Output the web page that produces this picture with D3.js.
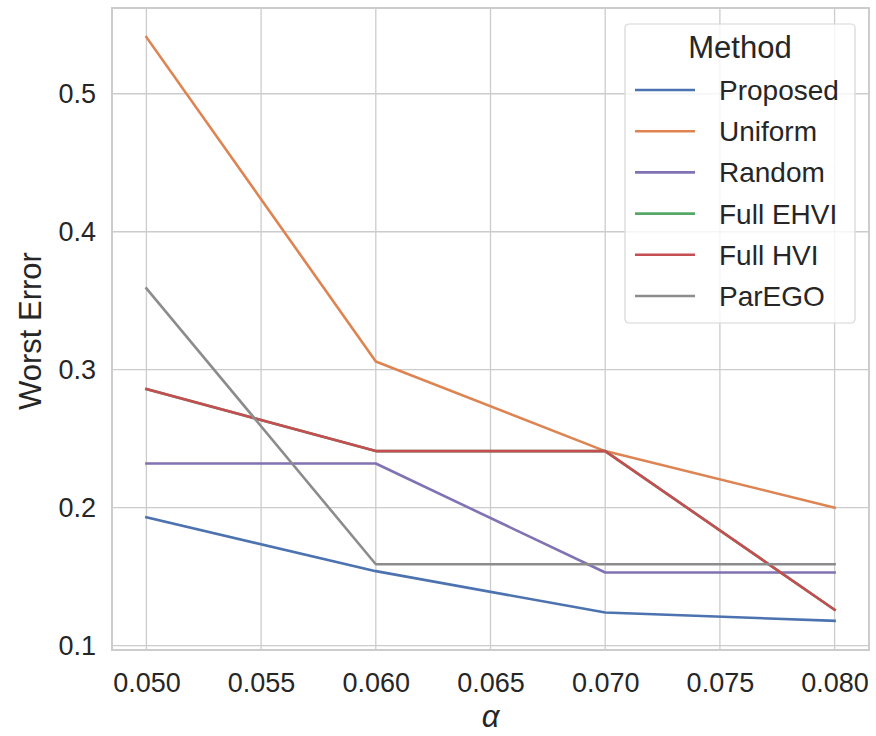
<!DOCTYPE html>
<html>
<head>
<meta charset="utf-8">
<script src="https://cdn.jsdelivr.net/npm/d3@7"></script>
<style>
  html, body { margin: 0; padding: 0; background: #fff; }
  svg { display: block; font-family: "Liberation Sans", Arial, sans-serif; }
</style>
</head>
<body>
<div id="chart"></div>
<script>
// alpha values on the x axis
var alphas = [0.050, 0.060, 0.070, 0.080];
// worst error per method, one value per alpha
var proposed = [0.193, 0.154, 0.124, 0.118];
var uniform  = [0.541, 0.306, 0.241, 0.200];
var random   = [0.232, 0.232, 0.153, 0.153];
var fullEhvi = [0.286, 0.241, 0.241, 0.126];
var fullHvi  = [0.286, 0.241, 0.241, 0.126];
var parego   = [0.359, 0.159, 0.159, 0.159];
var xTicks = [0.050, 0.055, 0.060, 0.065, 0.070, 0.075, 0.080];
var yTicks = [0.1, 0.2, 0.3, 0.4, 0.5];

var series = [
  { name: 'Proposed', values: proposed, color: '#4C72B0' },
  { name: 'Uniform', values: uniform, color: '#DD8452' },
  { name: 'Random', values: random, color: '#8172B3' },
  { name: 'Full EHVI', values: fullEhvi, color: '#55A868' },
  { name: 'Full HVI', values: fullHvi, color: '#C44E52' },
  { name: 'ParEGO', values: parego, color: '#8C8C8C' }
];

var W = 876, H = 736;
var m = { left: 112, right: 7, top: 8, bottom: 86 };
var pw = W - m.left - m.right, ph = H - m.top - m.bottom;
var ink = '#262626', grid = '#cccccc';

var svg = d3.select('#chart').append('svg').attr('width', W).attr('height', H);
var g = svg.append('g').attr('transform', 'translate(' + m.left + ',' + m.top + ')');

// matplotlib-style 5% margins around the data
var allY = [].concat(proposed, uniform, random, fullEhvi, fullHvi, parego);
var yMin = d3.min(allY), yMax = d3.max(allY), yPad = (yMax - yMin) * 0.05;
var xPad = (alphas[alphas.length - 1] - alphas[0]) * 0.05;
var x = d3.scaleLinear().domain([alphas[0] - xPad, alphas[alphas.length - 1] + xPad]).range([0, pw]);
var y = d3.scaleLinear().domain([yMin - yPad, yMax + yPad]).range([ph, 0]);

// grid
g.append('g').selectAll('line').data(xTicks).join('line')
  .attr('x1', function (d) { return x(d); }).attr('x2', function (d) { return x(d); })
  .attr('y1', 0).attr('y2', ph).attr('stroke', grid).attr('stroke-width', 1.3);
g.append('g').selectAll('line').data(yTicks).join('line')
  .attr('y1', function (d) { return y(d); }).attr('y2', function (d) { return y(d); })
  .attr('x1', 0).attr('x2', pw).attr('stroke', grid).attr('stroke-width', 1.3);

// axes (labels only, seaborn whitegrid has no tick marks)
var xAxis = g.append('g').attr('transform', 'translate(0,' + ph + ')')
  .call(d3.axisBottom(x).tickValues(xTicks).tickFormat(d3.format('.3f')).tickSize(0).tickPadding(16));
var yAxis = g.append('g')
  .call(d3.axisLeft(y).tickValues(yTicks).tickFormat(d3.format('.1f')).tickSize(0).tickPadding(16));
[xAxis, yAxis].forEach(function (a) {
  a.select('.domain').remove();
  a.selectAll('text').attr('fill', ink).style('font-size', '27px').style('font-family', '"Liberation Sans", Arial, sans-serif');
});
xAxis.selectAll('text').attr('dy', '0.95em');

// lines
var line = d3.line().x(function (d, i) { return x(alphas[i]); }).y(function (d) { return y(d); });
g.append('g').selectAll('path').data(series).join('path')
  .attr('d', function (s) { return line(s.values); })
  .attr('fill', 'none').attr('stroke', function (s) { return s.color; })
  .attr('stroke-width', 2.6).attr('stroke-linejoin', 'round').attr('stroke-linecap', 'square');

// frame
g.append('rect').attr('width', pw).attr('height', ph)
  .attr('fill', 'none').attr('stroke', grid).attr('stroke-width', 2);

// axis titles
svg.append('text').attr('x', m.left + pw / 2).attr('y', 727)
  .attr('text-anchor', 'middle').attr('fill', ink)
  .style('font-size', '31px').style('font-style', 'italic').text('α');
svg.append('text').attr('transform', 'translate(41,' + (m.top + ph / 2 + 2) + ') rotate(-90)')
  .attr('text-anchor', 'middle').attr('fill', ink)
  .style('font-size', '31px').text('Worst Error');

// legend
var lg = svg.append('g').attr('transform', 'translate(625,24)');
lg.append('rect').attr('width', 230).attr('height', 299).attr('rx', 4)
  .attr('fill', 'rgba(255,255,255,0.8)').attr('stroke', '#d6d6d6').attr('stroke-width', 1.2);
lg.append('text').attr('x', 115).attr('y', 34).attr('text-anchor', 'middle')
  .attr('fill', ink).style('font-size', '31px').text('Method');
var items = lg.selectAll('g.item').data(series).join('g').attr('class', 'item')
  .attr('transform', function (d, i) { return 'translate(0,' + (66 + i * 41.2) + ')'; });
items.append('line').attr('x1', 10).attr('x2', 70)
  .attr('stroke', function (d) { return d.color; }).attr('stroke-width', 2.6);
items.append('text').attr('x', 94).attr('dy', '0.36em').attr('fill', ink)
  .style('font-size', '28px').text(function (d) { return d.name; });
</script>
</body>
</html>
